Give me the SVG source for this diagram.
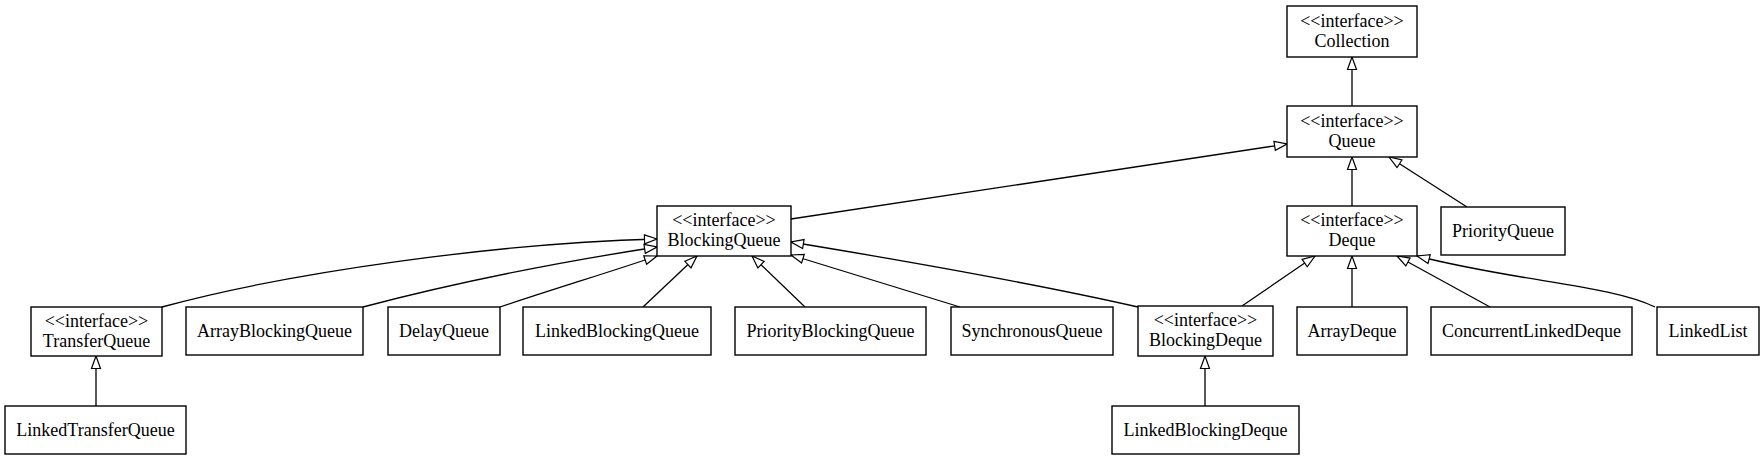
<svg xmlns="http://www.w3.org/2000/svg" width="1764" height="460" viewBox="0 0 1764 460">
<style>
.box{fill:#fff;stroke:#000;stroke-width:1.4}
.t{font-family:"Liberation Serif","Times New Roman",serif;font-size:18px;text-anchor:middle;fill:#000}
.e{fill:none;stroke:#000;stroke-width:1.3;marker-end:url(#tri)}
</style>
<defs>
<marker id="tri" markerUnits="userSpaceOnUse" markerWidth="14" markerHeight="12" refX="12.5" refY="5" orient="auto" viewBox="-1 0 14 10">
<path d="M0,0.5 L12.5,5 L0,9.5 Z" fill="#fff" stroke="#000" stroke-width="1.2"/>
</marker>
</defs>
<rect width="1764" height="460" fill="#fff"/>
<g id="connectors">
<path class="e" d="M1352,106 L1352,57"/>
<path class="e" d="M791,219 L1287,144"/>
<path class="e" d="M1467,207 L1389,157"/>
<path class="e" d="M1352,206 L1352,157"/>
<path class="e" d="M162,307 C290,272 500,243 657,239"/>
<path class="e" d="M363,307 C450,284 560,262 657,247"/>
<path class="e" d="M500,307 C560,287 610,272 657,256"/>
<path class="e" d="M643,307 L697,256"/>
<path class="e" d="M805,307 L752,256"/>
<path class="e" d="M960,307 L791,255"/>
<path class="e" d="M1138,307 C1050,287 900,260 791,242"/>
<path class="e" d="M1242,306 L1315,256"/>
<path class="e" d="M1352,307 L1352,256"/>
<path class="e" d="M1490,307 L1397,256"/>
<path class="e" d="M1655,307 C1610,285 1520,282 1417,256"/>
<path class="e" d="M96,406 L96,356"/>
<path class="e" d="M1205,406 L1205,356"/>
</g>
<g id="Collection"><rect class="box" x="1287" y="6" width="130" height="51"/><text class="t" x="1352" y="26.5">&lt;&lt;interface&gt;&gt;</text><text class="t" x="1352" y="46.5">Collection</text></g>
<g id="Queue"><rect class="box" x="1287" y="106" width="130" height="51"/><text class="t" x="1352" y="126.5">&lt;&lt;interface&gt;&gt;</text><text class="t" x="1352" y="146.5">Queue</text></g>
<g id="Deque"><rect class="box" x="1287" y="206" width="130" height="50"/><text class="t" x="1352" y="226">&lt;&lt;interface&gt;&gt;</text><text class="t" x="1352" y="246">Deque</text></g>
<g id="PriorityQueue"><rect class="box" x="1441" y="207" width="124" height="48"/><text class="t" x="1503" y="237">PriorityQueue</text></g>
<g id="BlockingQueue"><rect class="box" x="657" y="206" width="134" height="50"/><text class="t" x="724" y="226">&lt;&lt;interface&gt;&gt;</text><text class="t" x="724" y="246">BlockingQueue</text></g>
<g id="TransferQueue"><rect class="box" x="31" y="307" width="131" height="49"/><text class="t" x="96.5" y="326.5">&lt;&lt;interface&gt;&gt;</text><text class="t" x="96.5" y="346.5">TransferQueue</text></g>
<g id="ArrayBlockingQueue"><rect class="box" x="186" y="307" width="177" height="48"/><text class="t" x="274.5" y="337">ArrayBlockingQueue</text></g>
<g id="DelayQueue"><rect class="box" x="388" y="307" width="112" height="48"/><text class="t" x="444" y="337">DelayQueue</text></g>
<g id="LinkedBlockingQueue"><rect class="box" x="523" y="307" width="188" height="48"/><text class="t" x="617" y="337">LinkedBlockingQueue</text></g>
<g id="PriorityBlockingQueue"><rect class="box" x="735" y="307" width="191" height="48"/><text class="t" x="830.5" y="337">PriorityBlockingQueue</text></g>
<g id="SynchronousQueue"><rect class="box" x="951" y="307" width="162" height="48"/><text class="t" x="1032" y="337">SynchronousQueue</text></g>
<g id="BlockingDeque"><rect class="box" x="1138" y="306" width="135" height="50"/><text class="t" x="1205.5" y="326">&lt;&lt;interface&gt;&gt;</text><text class="t" x="1205.5" y="346">BlockingDeque</text></g>
<g id="ArrayDeque"><rect class="box" x="1297" y="307" width="110" height="48"/><text class="t" x="1352" y="337">ArrayDeque</text></g>
<g id="ConcurrentLinkedDeque"><rect class="box" x="1431" y="307" width="201" height="48"/><text class="t" x="1531.5" y="337">ConcurrentLinkedDeque</text></g>
<g id="LinkedList"><rect class="box" x="1657" y="307" width="102" height="48"/><text class="t" x="1708" y="337">LinkedList</text></g>
<g id="LinkedTransferQueue"><rect class="box" x="5" y="406" width="181" height="48"/><text class="t" x="95.5" y="436">LinkedTransferQueue</text></g>
<g id="LinkedBlockingDeque"><rect class="box" x="1112" y="406" width="187" height="48"/><text class="t" x="1205.5" y="436">LinkedBlockingDeque</text></g>
</svg>
